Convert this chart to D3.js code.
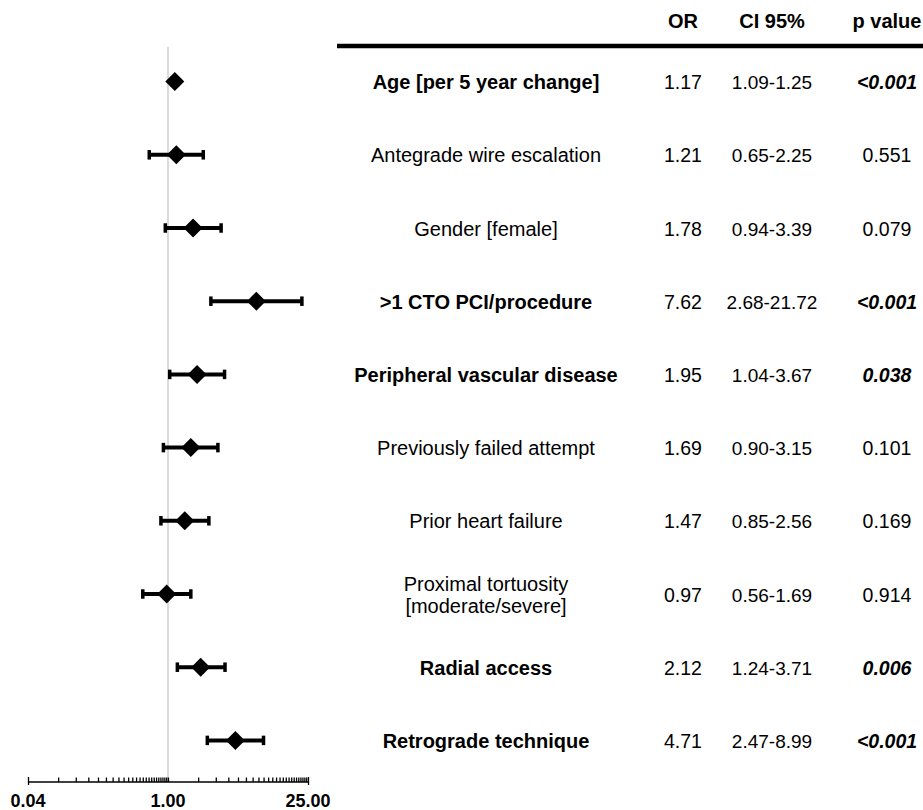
<!DOCTYPE html>
<html><head><meta charset="utf-8">
<script src="https://cdn.jsdelivr.net/npm/d3@7"></script>
<style>body{margin:0;background:#fff;} text{font-family:"Liberation Sans",Arial,sans-serif;}</style>
</head><body>
<svg id="c" width="923" height="810"></svg>
<script>
const labels = ["Age [per 5 year change]","Antegrade wire escalation","Gender [female]",">1 CTO PCI/procedure","Peripheral vascular disease","Previously failed attempt","Prior heart failure","Proximal tortuosity\n[moderate/severe]","Radial access","Retrograde technique"];
const orVals = [1.17,1.21,1.78,7.62,1.95,1.69,1.47,0.97,2.12,4.71];
const ciLow = [1.09,0.65,0.94,2.68,1.04,0.90,0.85,0.56,1.24,2.47];
const ciHigh = [1.25,2.25,3.39,21.72,3.67,3.15,2.56,1.69,3.71,8.99];
const pVals = ["<0.001","0.551","0.079","<0.001","0.038","0.101","0.169","0.914","0.006","<0.001"];
const significant = [true,false,false,true,true,false,false,false,true,true];
const headers = ["OR","CI 95%","p value"];
const tickLabels = [0.04,1,25];

const svg = d3.select("#c");
const x = d3.scaleLog().domain([0.04,25]).range([28,308]);
const y = d3.scaleBand().domain(d3.range(labels.length)).range([45,777]);
const cy = i => y(i)+y.bandwidth()/2;
const axisY = 782;

// reference line
svg.append("line").attr("x1",x(1)).attr("x2",x(1)).attr("y1",47).attr("y2",axisY)
  .attr("stroke","#cfcfcf").attr("stroke-width",1.5);

// axis (ticks point upward)
const minor = [];
for(let k=1;k<=25;k++) minor.push(0.04*k);
for(let k=2;k<=25;k++) minor.push(k);
const axis = d3.axisTop(x).tickValues(minor).tickSize(4.5).tickFormat("");
const ag = svg.append("g").attr("transform",`translate(0,${axisY})`).call(axis);
ag.select(".domain").attr("stroke","#000").attr("stroke-width",1.6).attr("d",`M${x(0.04)},0H${x(25)}`);
ag.selectAll(".tick line").attr("stroke","#000").attr("stroke-width",1.3);
ag.selectAll(".tick").filter(d=>Math.abs(d-0.04)<1e-9||d===25).select("line").attr("y1",3).attr("y2",-5);
svg.selectAll("text.tl").data(tickLabels).join("text").attr("class","tl")
  .attr("x",d=>x(d)).attr("y",807).attr("text-anchor","middle")
  .attr("font-size",18).attr("font-weight","bold").text(d=>d.toFixed(2));

// error bars
const g = svg.append("g");
labels.forEach((l,i)=>{
  const yy = cy(i);
  g.append("line").attr("x1",x(ciLow[i])).attr("x2",x(ciHigh[i])).attr("y1",yy).attr("y2",yy)
    .attr("stroke","#000").attr("stroke-width",4);
  [ciLow[i],ciHigh[i]].forEach(v=>{
    g.append("rect").attr("x",x(v)-1.75).attr("y",yy-4.75).attr("width",3.5).attr("height",9.5).attr("fill","#000");
  });
  const s=9.5, cx=x(orVals[i]);
  g.append("path").attr("d",`M${cx},${yy-s}L${cx+s},${yy}L${cx},${yy+s}L${cx-s},${yy}Z`).attr("fill","#000");
});

// header
const colX = [683,772,887];
const labelX = 486;
headers.forEach((h,j)=>{
  svg.append("text").attr("x",colX[j]).attr("y",28).attr("text-anchor","middle")
    .attr("font-size",20).attr("font-weight","bold").text(h);
});
svg.append("line").attr("x1",337).attr("x2",923).attr("y1",46).attr("y2",46).attr("stroke","#000").attr("stroke-width",4.5);

// rows text
labels.forEach((l,i)=>{
  const yy = cy(i);
  const lines = l.split("\n");
  const t = svg.append("text").attr("x",labelX).attr("text-anchor","middle").attr("font-size",20)
    .attr("font-weight",significant[i]?"bold":"normal");
  lines.forEach((ln,k)=>{
    t.append("tspan").attr("x",labelX).attr("y",yy+7.5+(k-(lines.length-1)/2)*22).text(ln);
  });
  svg.append("text").attr("x",colX[0]).attr("y",yy+7.5).attr("text-anchor","middle").attr("font-size",19.5).text(orVals[i].toFixed(2));
  svg.append("text").attr("x",colX[1]).attr("y",yy+7.5).attr("text-anchor","middle").attr("font-size",19).text(ciLow[i].toFixed(2)+"-"+ciHigh[i].toFixed(2));
  svg.append("text").attr("x",colX[2]).attr("y",yy+7.5).attr("text-anchor","middle").attr("font-size",19.5)
    .attr("font-weight",significant[i]?"bold":"normal").attr("font-style",significant[i]?"italic":"normal").text(pVals[i]);
});
</script>
</body></html>
